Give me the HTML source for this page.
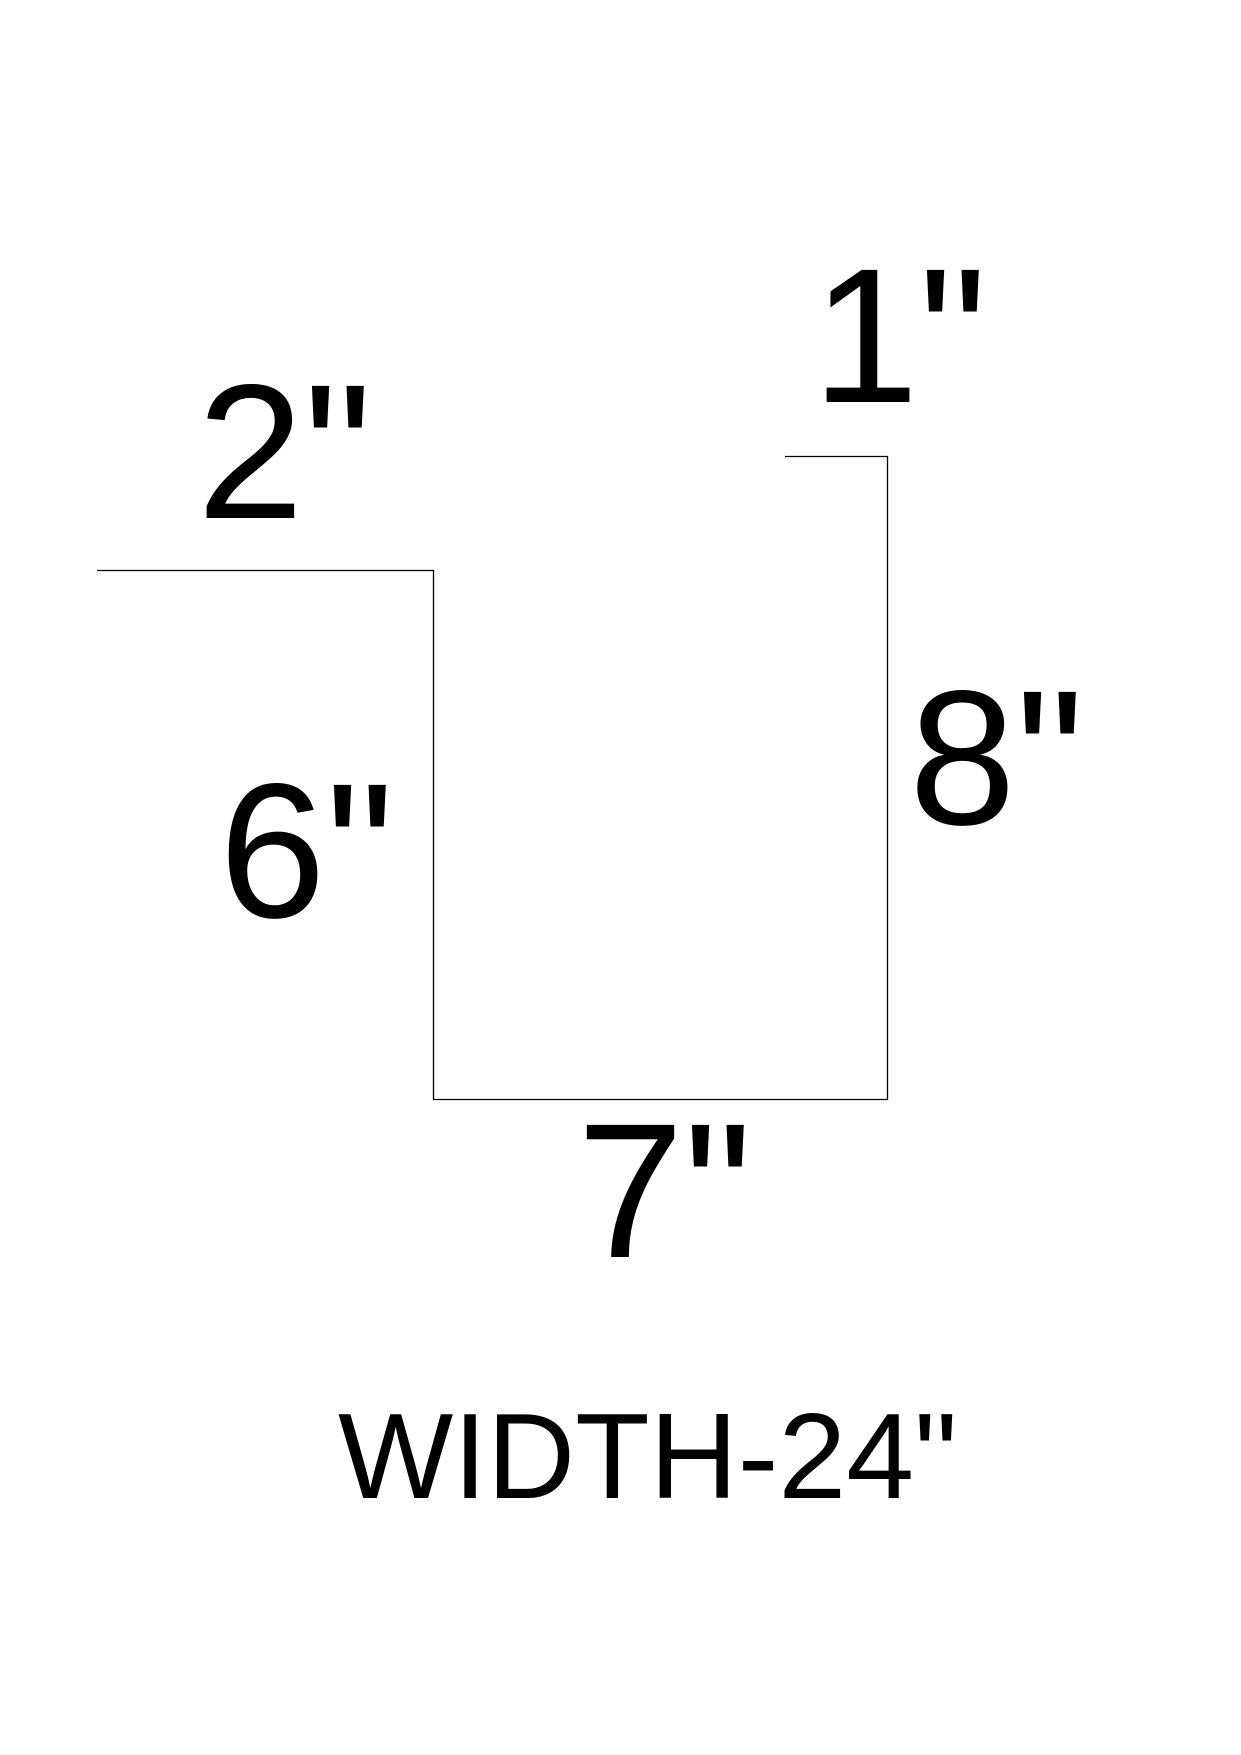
<!DOCTYPE html>
<html><head><meta charset="utf-8"><style>
html,body{margin:0;padding:0;background:#fff;}
svg{display:block;}
text{font-family:"Liberation Sans",Arial,sans-serif;fill:#000;}
</style></head><body>
<svg width="1241" height="1755" viewBox="0 0 1241 1755">
<rect width="1241" height="1755" fill="#fff"/>
<polyline points="97,570.5 433.5,570.5 433.5,1099.5 887.5,1099.5 887.5,456.5 785,456.5" fill="none" stroke="#000" stroke-width="1.3"/>
<text x="197" y="518" font-size="192">2"</text>
<text x="812" y="402" font-size="192">1"</text>
<text x="909" y="824" font-size="192">8"</text>
<text x="219" y="917" font-size="192">6"</text>
<text x="577" y="1257" font-size="192">7"</text>
<text x="338" y="1498" font-size="122">WIDTH-24"</text>
</svg>
</body></html>
